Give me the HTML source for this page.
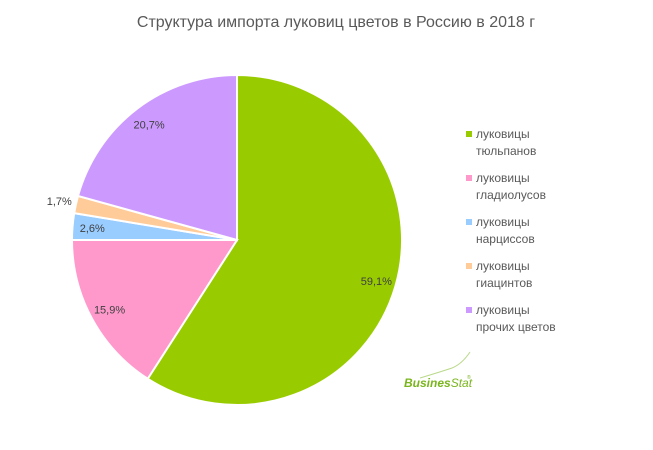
<!DOCTYPE html>
<html><head><meta charset="utf-8"><style>
body{margin:0;background:#fff;width:653px;height:445px;overflow:hidden;font-family:"Liberation Sans","DejaVu Sans",sans-serif}
</style></head><body>
<svg id="chart" width="653" height="445">
<text x="336" y="27" text-anchor="middle" font-size="16" fill="#595959">Структура импорта луковиц цветов в Россию в 2018 г</text>
<g id="slices"></g><g id="labels"></g><g id="legend"></g>
<g>
<path d="M420 378 Q440 372 452 368 Q462 364 470 352" stroke="#b9d98a" fill="none" stroke-width="1"/>
<text x="404" y="387" font-size="12" font-weight="bold" font-style="italic" fill="#7ab51d">Busines<tspan font-weight="normal">Stat</tspan></text>
<text x="467" y="379" font-size="5" fill="#7ab51d">®</text>
</g>
</svg>
<script>
const categories=["луковицы тюльпанов","луковицы гладиолусов","луковицы нарциссов","луковицы гиацинтов","луковицы прочих цветов"];
const values=[59.1,15.9,2.6,1.7,20.7];
const valueLabels=["59,1%","15,9%","2,6%","1,7%","20,7%"];
const colors=["#99cc00","#ff99cc","#99ccff","#ffcc99","#cc99ff"];
const ns="http://www.w3.org/2000/svg";
const cx=237,cy=240,R=165;
const total=values.reduce((a,b)=>a+b,0);
const pt=(a,r)=>[cx+r*Math.sin(a),cy-r*Math.cos(a)];
let acc=0;
const gs=document.getElementById('slices'),gl=document.getElementById('labels'),lg=document.getElementById('legend');
values.forEach((v,i)=>{
  const a0=acc/total*2*Math.PI;acc+=v;const a1=acc/total*2*Math.PI;
  const p0=pt(a0,R),p1=pt(a1,R);
  const p=document.createElementNS(ns,'path');
  p.setAttribute('d',`M${cx},${cy}L${p0[0]},${p0[1]}A${R},${R} 0 ${a1-a0>Math.PI?1:0} 1 ${p1[0]},${p1[1]}Z`);
  p.setAttribute('fill',colors[i]);p.setAttribute('stroke','#fff');p.setAttribute('stroke-width','2');
  
  
  gs.appendChild(p);
  const am=(a0+a1)/2;const lr=v<2?R+17:R*0.88;const lp=pt(am,lr);
  const t=document.createElementNS(ns,'text');
  t.setAttribute('x',lp[0]);t.setAttribute('y',lp[1]+4);t.setAttribute('text-anchor','middle');
  t.setAttribute('font-size','11');t.setAttribute('fill','#404040');t.textContent=valueLabels[i];
  
  
  gl.appendChild(t);
  const y=137+i*44;
  const g=document.createElementNS(ns,'g');
  
  
  const r=document.createElementNS(ns,'rect');
  r.setAttribute('x',466);r.setAttribute('y',y-6);r.setAttribute('width',6);r.setAttribute('height',6);r.setAttribute('fill',colors[i]);
  g.appendChild(r);
  const w=categories[i].split(' ');
  [w[0],w.slice(1).join(' ')].forEach((s,k)=>{
    const tt=document.createElementNS(ns,'text');
    tt.setAttribute('x',476);tt.setAttribute('y',y+1+k*17);tt.setAttribute('font-size','12');tt.setAttribute('fill','#595959');
    tt.textContent=s;g.appendChild(tt);
  });
  lg.appendChild(g);
});
</script>
</body></html>
